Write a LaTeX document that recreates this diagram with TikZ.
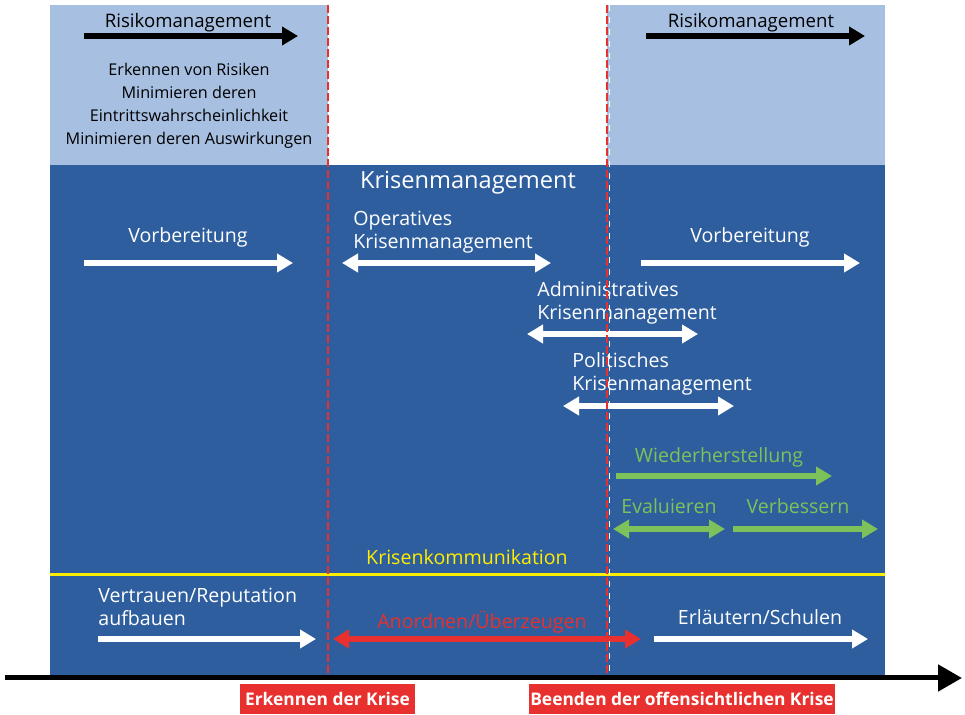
\documentclass[tikz,border=0pt]{standalone}
\usepackage{fontspec}
\setmainfont{Open Sans}
\usetikzlibrary{arrows.meta, positioning}

\definecolor{hellblau}{RGB}{167,191,225}
\definecolor{dunkelblau}{RGB}{46,94,158}
\definecolor{gruen}{RGB}{125,193,90}
\definecolor{gelb}{RGB}{255,237,0}
\definecolor{rot}{RGB}{232,48,46}

\tikzset{
	spitze/.style={-{Triangle[length=8pt,width=9pt]}},
	dspitze/.style={{Triangle[length=8pt,width=9pt]}-{Triangle[length=8pt,width=9pt]}},
	balken/.style={line width=2.6pt},
	txt/.style={inner sep=0pt, font=\fontsize{9.8}{11.5}\selectfont},
	marke/.style={fill=rot, text=white, inner sep=0pt, minimum height=15pt, font=\bfseries\fontsize{8.7}{10}\selectfont}
}

\begin{document}
\begin{tikzpicture}[x=0.5pt, y=-0.5pt]
	\useasboundingbox (0,0) rectangle (965,715);

	% Flaechen
	\fill[hellblau] (50,5) rectangle (328,165);
	\fill[hellblau] (607,5) rectangle (885,165);
	\fill[dunkelblau] (50,165) rectangle (885,677);
	\draw[gelb, line width=1.5pt] (50,575) -- (885,575);

	% Risikomanagement
	\node[txt, font=\fontsize{9.3}{11}\selectfont] (rm1) at (188,23) {Risikomanagement};
	\node[txt, font=\fontsize{9.3}{11}\selectfont] (rm2) at (751,23) {Risikomanagement};
	\foreach \a/\b in {84/298, 646/865}
		\draw[balken, line width=3pt, spitze] (\a,36) -- (\b,36);
	\node[txt, align=center, font=\fontsize{8.1}{11.5}\selectfont] (risiken) at (189,106)
		{Erkennen von Risiken\\Minimieren deren\\Eintrittswahrscheinlichkeit\\Minimieren deren Auswirkungen};

	% Krisenmanagement
	\node[txt, text=white, font=\fontsize{11.8}{14}\selectfont] (km) at (468,183) {Krisenmanagement};
	\node[txt, text=white] (vorb1) at (188,237) {Vorbereitung};
	\node[txt, text=white] (vorb2) at (750,237) {Vorbereitung};
	\node[txt, text=white, align=left, anchor=north west] (opkm) at (353,211) {Operatives\\Krisenmanagement};
	\node[txt, text=white, align=left, anchor=north west] (adkm) at (537,281) {Administratives\\Krisenmanagement};
	\node[txt, text=white, align=left, anchor=north west] (pokm) at (572,352) {Politisches\\Krisenmanagement};
	\foreach \a/\b/\y in {84/293/263, 641/860/263}
		\draw[balken, white, spitze] (\a,\y) -- (\b,\y);
	\foreach \a/\b/\y in {342/551/263, 527/698/334, 563/734/406}
		\draw[balken, white, dspitze] (\a,\y) -- (\b,\y);

	% Wiederherstellung
	\node[txt, text=gruen] (wh) at (719,457) {Wiederherstellung};
	\node[txt, text=gruen] (ev) at (669,506) {Evaluieren};
	\node[txt, text=gruen] (vb) at (798,506) {Verbessern};
	\draw[balken, gruen, spitze] (616,476) -- (832,476);
	\draw[balken, gruen, dspitze] (613,529) -- (725,529);
	\draw[balken, gruen, spitze] (733,529) -- (878,529);

	% Krisenkommunikation
	\node[txt, text=gelb] (kk) at (467,557) {Krisenkommunikation};
	\node[txt, text=white, align=left, anchor=north west] (vertr) at (98,588) {Vertrauen/Reputation\\aufbauen};
	\node[txt, text=rot] (anord) at (482,622) {Anordnen/Überzeugen};
	\node[txt, text=white] (erl) at (760,617) {Erläutern/Schulen};
	\draw[balken, white, spitze] (98,639) -- (316,639);
	\draw[balken, rot, dspitze] (333,639) -- (641,639);
	\draw[balken, white, spitze] (654,639) -- (868,639);

	% Zeitachse und Krisengrenzen
	\draw[white, line width=0.5pt, dashed] (609.5,5) -- (609.5,677);
	\foreach \x in {328, 607}
		\draw[rot, line width=1.4pt, dash pattern=on 4pt off 1.5pt] (\x,5) -- (\x,677);
	\draw[line width=2.5pt, -{Triangle[length=12pt,width=13pt]}] (5,678) -- (962,678);
	\node[marke, minimum width=87.5pt] (erk) at (327.5,699) {Erkennen der Krise};
	\node[marke, minimum width=153pt] (end) at (682,699) {Beenden der offensichtlichen Krise};
\end{tikzpicture}
\end{document}
